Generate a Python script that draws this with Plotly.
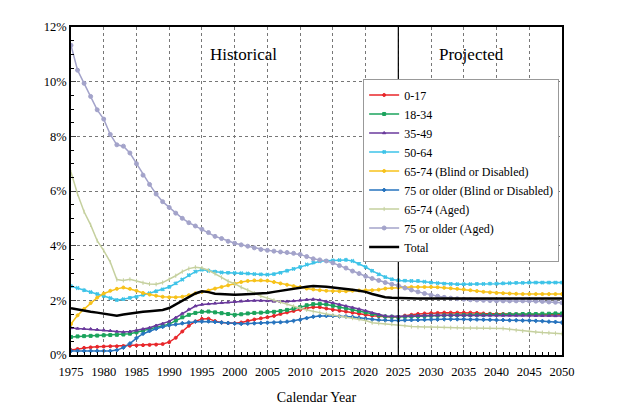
import plotly.graph_objects as go

years = list(range(1975, 2051))

age_0_17 = [0.18, 0.22, 0.26, 0.28, 0.30, 0.31, 0.32, 0.32, 0.33, 0.34,
            0.35, 0.36, 0.37, 0.38, 0.40, 0.47, 0.63, 0.86, 1.07, 1.23,
            1.32, 1.33, 1.24, 1.19, 1.17, 1.16, 1.19, 1.25, 1.30, 1.34,
            1.38, 1.43, 1.50, 1.56, 1.61, 1.66, 1.72, 1.75, 1.75, 1.70,
            1.66, 1.62, 1.59, 1.55, 1.51, 1.47, 1.44, 1.42, 1.40, 1.39,
            1.39, 1.44, 1.47, 1.50, 1.52, 1.53, 1.54, 1.55, 1.55, 1.55,
            1.55, 1.55, 1.54, 1.52, 1.51, 1.50, 1.50, 1.49, 1.49, 1.49,
            1.48, 1.48, 1.48, 1.47, 1.47, 1.47]
age_18_34 = [0.66, 0.68, 0.69, 0.70, 0.71, 0.72, 0.73, 0.74, 0.75, 0.78,
             0.83, 0.89, 0.95, 1.00, 1.06, 1.13, 1.26, 1.38, 1.47, 1.54,
             1.58, 1.59, 1.56, 1.53, 1.50, 1.47, 1.49, 1.52, 1.54, 1.55,
             1.57, 1.58, 1.61, 1.65, 1.70, 1.75, 1.82, 1.86, 1.87, 1.85,
             1.80, 1.75, 1.71, 1.66, 1.61, 1.56, 1.50, 1.45, 1.41, 1.40,
             1.39, 1.40, 1.41, 1.42, 1.43, 1.44, 1.44, 1.45, 1.45, 1.46,
             1.46, 1.46, 1.47, 1.47, 1.48, 1.48, 1.48, 1.49, 1.49, 1.50,
             1.50, 1.50, 1.51, 1.51, 1.52, 1.52]
age_35_49 = [0.99, 0.97, 0.96, 0.95, 0.93, 0.91, 0.89, 0.86, 0.84, 0.86,
             0.90, 0.95, 1.00, 1.08, 1.15, 1.23, 1.37, 1.52, 1.67, 1.79,
             1.85, 1.87, 1.89, 1.91, 1.93, 1.95, 1.97, 1.99, 1.99, 1.99,
             1.98, 1.96, 1.95, 1.96, 1.98, 2.00, 2.03, 2.04, 2.01, 1.96,
             1.91, 1.85, 1.79, 1.74, 1.68, 1.62, 1.54, 1.48, 1.43, 1.42,
             1.41, 1.42, 1.43, 1.44, 1.45, 1.45, 1.45, 1.45, 1.45, 1.45,
             1.45, 1.45, 1.45, 1.45, 1.45, 1.45, 1.45, 1.45, 1.45, 1.45,
             1.45, 1.44, 1.44, 1.44, 1.43, 1.43]
age_50_64 = [2.52, 2.45, 2.37, 2.30, 2.23, 2.16, 2.08, 2.01, 2.04, 2.09,
             2.13, 2.20, 2.26, 2.33, 2.40, 2.49, 2.62, 2.76, 2.92, 3.05,
             3.12, 3.08, 3.05, 3.02, 3.01, 3.00, 2.99, 2.98, 2.96, 2.95,
             2.94, 2.96, 3.01, 3.08, 3.15, 3.22, 3.31, 3.38, 3.43, 3.45,
             3.46, 3.47, 3.48, 3.44, 3.34, 3.22, 3.08, 2.95, 2.85, 2.77,
             2.73, 2.72, 2.71, 2.71, 2.68, 2.65, 2.63, 2.61, 2.60, 2.59,
             2.59, 2.59, 2.60, 2.60, 2.61, 2.61, 2.62, 2.63, 2.64, 2.64,
             2.65, 2.65, 2.65, 2.65, 2.65, 2.65]
age_65_74_bd = [1.13, 1.45, 1.68, 1.90, 2.10, 2.25, 2.35, 2.42, 2.47, 2.42,
                2.35, 2.27, 2.21, 2.17, 2.13, 2.11, 2.11, 2.13, 2.19, 2.26,
                2.31, 2.36, 2.43, 2.49, 2.55, 2.61, 2.67, 2.71, 2.73, 2.73,
                2.72, 2.67, 2.62, 2.57, 2.52, 2.48, 2.43, 2.40, 2.37, 2.35,
                2.34, 2.33, 2.33, 2.35, 2.36, 2.37, 2.37, 2.39, 2.43, 2.45,
                2.47, 2.48, 2.49, 2.49, 2.49, 2.49, 2.48, 2.46, 2.44, 2.42,
                2.40, 2.37, 2.34, 2.31, 2.29, 2.27, 2.26, 2.25, 2.24, 2.23,
                2.23, 2.23, 2.23, 2.23, 2.23, 2.23]
age_75_bd = [0.15, 0.15, 0.15, 0.15, 0.15, 0.15, 0.15, 0.18, 0.27, 0.42,
             0.62, 0.78, 0.88, 0.96, 1.03, 1.09, 1.12, 1.16, 1.19, 1.22,
             1.23, 1.23, 1.21, 1.19, 1.17, 1.15, 1.14, 1.15, 1.16, 1.17,
             1.18, 1.19, 1.20, 1.22, 1.25, 1.29, 1.35, 1.40, 1.43, 1.43,
             1.43, 1.42, 1.41, 1.39, 1.36, 1.33, 1.30, 1.28, 1.27, 1.26,
             1.26, 1.27, 1.28, 1.28, 1.29, 1.30, 1.30, 1.31, 1.31, 1.31,
             1.31, 1.30, 1.30, 1.29, 1.29, 1.28, 1.28, 1.27, 1.27, 1.26,
             1.26, 1.25, 1.24, 1.22, 1.21, 1.19]
age_65_74_aged = [6.69, 5.89, 5.24, 4.76, 4.18, 3.82, 3.40, 2.76, 2.73, 2.77,
                  2.71, 2.64, 2.60, 2.59, 2.65, 2.76, 2.90, 3.05, 3.16, 3.21,
                  3.18, 3.10, 2.98, 2.84, 2.70, 2.61, 2.48, 2.37, 2.26, 2.16,
                  2.08, 2.00, 1.94, 1.86, 1.78, 1.71, 1.65, 1.59, 1.55, 1.50,
                  1.46, 1.42, 1.39, 1.35, 1.31, 1.26, 1.18, 1.16, 1.15, 1.13,
                  1.11, 1.07, 1.04, 1.02, 1.02, 1.02, 1.01, 1.01, 1.00, 1.00,
                  0.99, 0.99, 0.99, 0.99, 0.99, 0.99, 0.97, 0.94, 0.91, 0.88,
                  0.86, 0.84, 0.82, 0.81, 0.79, 0.78]
age_75_aged = [11.33, 10.42, 9.94, 9.46, 8.97, 8.63, 8.07, 7.69, 7.64, 7.39,
               7.00, 6.58, 6.24, 5.89, 5.61, 5.40, 5.19, 5.00, 4.84, 4.72,
               4.60, 4.48, 4.34, 4.26, 4.16, 4.09, 4.03, 3.98, 3.92, 3.86,
               3.83, 3.80, 3.77, 3.75, 3.72, 3.68, 3.60, 3.52, 3.48, 3.44,
               3.37, 3.27, 3.18, 3.07, 2.98, 2.88, 2.80, 2.73, 2.65, 2.59,
               2.54, 2.45, 2.38, 2.31, 2.25, 2.19, 2.15, 2.11, 2.08, 2.06,
               2.04, 2.02, 2.01, 2.00, 1.99, 1.98, 1.98, 1.98, 1.98, 1.98,
               1.98, 1.97, 1.96, 1.94, 1.93, 1.91]
total = [1.71, 1.66, 1.61, 1.58, 1.55, 1.52, 1.48, 1.44, 1.48, 1.52,
         1.55, 1.58, 1.60, 1.62, 1.65, 1.72, 1.85, 2.00, 2.13, 2.25,
         2.33, 2.30, 2.24, 2.22, 2.21, 2.20, 2.21, 2.22, 2.23, 2.25,
         2.27, 2.31, 2.35, 2.40, 2.44, 2.47, 2.50, 2.52, 2.52, 2.50,
         2.47, 2.45, 2.42, 2.39, 2.35, 2.31, 2.23, 2.16, 2.11, 2.09,
         2.08, 2.07, 2.07, 2.07, 2.07, 2.07, 2.07, 2.07, 2.07, 2.07,
         2.07, 2.07, 2.07, 2.07, 2.07, 2.07, 2.07, 2.07, 2.07, 2.07,
         2.07, 2.07, 2.07, 2.07, 2.07, 2.07]

series = [
    ("0-17", age_0_17, "#E8262A", "circle", 3),
    ("18-34", age_18_34, "#1BA35C", "square", 3),
    ("35-49", age_35_49, "#6A3A9C", "triangle-up", 3),
    ("50-64", age_50_64, "#3CC3E8", "x", 3),
    ("65-74 (Blind or Disabled)", age_65_74_bd, "#F7C21A", "circle", 3),
    ("75 or older (Blind or Disabled)", age_75_bd, "#2673BE", "diamond", 3),
    ("65-74 (Aged)", age_65_74_aged, "#C5D09E", "line-ns", 3),
    ("75 or older (Aged)", age_75_aged, "#A3A3CA", "circle", 4),
]

fig = go.Figure()
for name, vals, col, sym, sz in series:
    fig.add_trace(go.Scatter(x=years, y=vals, name=name, mode="lines+markers",
                             line=dict(color=col, width=1.5),
                             marker=dict(color=col, symbol=sym, size=sz,
                                         line=dict(color=col, width=1))))
fig.add_trace(go.Scatter(x=years, y=total, name="Total", mode="lines",
                         line=dict(color="black", width=2.5)))

fig.add_vline(x=2025, line=dict(color="black", width=1.2))
fig.add_annotation(x=2001.3, y=11.0, text="Historical", showarrow=False,
                   font=dict(size=17))
fig.add_annotation(x=2036.1, y=11.0, text="Projected", showarrow=False,
                   font=dict(size=17))

# the page has an 8px body margin, so the margins are shifted by it
fig.update_layout(
    width=624, height=416,
    margin=dict(l=63, r=70, t=16, b=69),
    paper_bgcolor="white", plot_bgcolor="white",
    font=dict(family="Liberation Serif, Times New Roman, serif", size=13, color="black"),
    legend=dict(x=0.595, y=0.84, xanchor="left", yanchor="top",
                bgcolor="white", bordercolor="#999", borderwidth=1,
                font=dict(size=12), tracegroupgap=0),
)
fig.update_xaxes(range=[1975, 2050], dtick=5, tick0=1975,
                 showgrid=True, gridcolor="#777", griddash="dot", gridwidth=1,
                 showline=True, linecolor="black", linewidth=1.5, mirror=True,
                 ticks="inside", ticklen=5, tickfont=dict(size=12.5),
                 ticklabelstandoff=4,
                 minor=dict(dtick=1, ticks="inside", ticklen=3, tickcolor="black"),
                 title=dict(text="Calendar Year", standoff=14, font=dict(size=14)))
fig.update_yaxes(range=[0, 12], dtick=2, ticksuffix="%",
                 showgrid=True, gridcolor="#777", griddash="dot", gridwidth=1,
                 showline=True, linecolor="black", linewidth=1.5, mirror=True,
                 ticks="inside", ticklen=5, zeroline=False, tickfont=dict(size=12.5),
                 minor=dict(dtick=0.5, ticks="inside", ticklen=3, tickcolor="black"))

fig.write_html("out.html")
